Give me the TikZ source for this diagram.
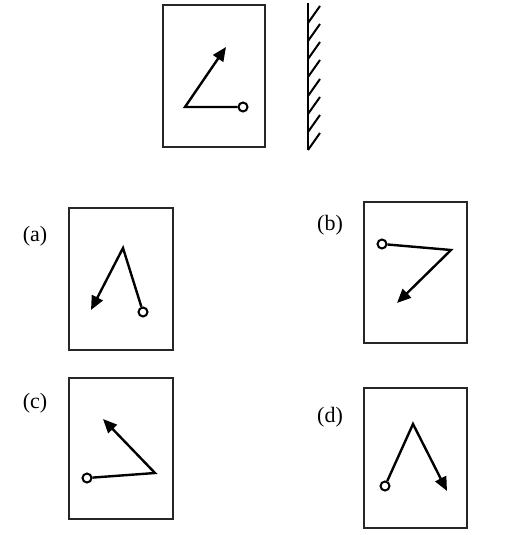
\documentclass[tikz,border=0pt]{standalone}
\usepackage{fontspec}
\setmainfont{Liberation Serif}
\usetikzlibrary{arrows.meta}
\begin{document}
\begin{tikzpicture}[x=1pt,y=-1pt,
  frame/.style={draw=black!85,line width=2.6pt},
  ray/.style={line width=2.4pt,-{Triangle[length=14pt,width=12pt]},line join=miter},
  pin/.style={circle,draw,line width=2pt,fill=white,inner sep=0pt,minimum size=9pt},
  lbl/.style={font=\fontsize{22}{26}\selectfont,inner sep=0pt}]
\useasboundingbox (0,0) rectangle (504,535);
% top
\node[frame,minimum width=102pt,minimum height=142pt,inner sep=0pt] (top) at (214,76) {};
\coordinate (tv) at (185,107);
\coordinate (tt) at (226,47);
\node[pin] (tc) at (243,107) {};
\draw[ray] (tc.west) -- (tv) -- (tt);
% mirror
\coordinate (m1) at (308,3);
\coordinate (m2) at (308,150);
\draw[line width=2.4pt] (m1) -- (m2);
\foreach \y in {23,41,59,77,96,114,132,150}
  \draw[line width=2pt] (308,\y) -- ++(12,-17);
% (a)
\node[lbl] (la) at (35,236) {(a)};
\node[frame,minimum width=104pt,minimum height=142pt,inner sep=0pt] (ba) at (121,279) {};
\coordinate (av) at (123,248);
\coordinate (at) at (91,310);
\node[pin] (ac) at (143,312) {};
\draw[ray] (ac) -- (av) -- (at);
% (b)
\node[lbl] (lb) at (330,225) {(b)};
\node[frame,minimum width=103pt,minimum height=141pt,inner sep=0pt] (bb) at (415.5,272.5) {};
\coordinate (bv) at (451,250);
\coordinate (bt) at (397,303);
\node[pin] (bc) at (382,244) {};
\draw[ray] (bc) -- (bv) -- (bt);
% (c)
\node[lbl] (lc) at (35,403) {(c)};
\node[frame,minimum width=104pt,minimum height=141pt,inner sep=0pt] (bc2) at (121,448.5) {};
\coordinate (cv) at (155,473);
\coordinate (ct) at (103,419);
\node[pin] (cc) at (87,478) {};
\draw[ray] (cc) -- (cv) -- (ct);
% (d)
\node[lbl] (ld) at (330,417) {(d)};
\node[frame,minimum width=103pt,minimum height=140pt,inner sep=0pt] (bd) at (415.5,458) {};
\coordinate (dv) at (413,424);
\coordinate (dt) at (447,491);
\node[pin] (dc) at (385,486) {};
\draw[ray] (dc) -- (dv) -- (dt);
\end{tikzpicture}
\end{document}
